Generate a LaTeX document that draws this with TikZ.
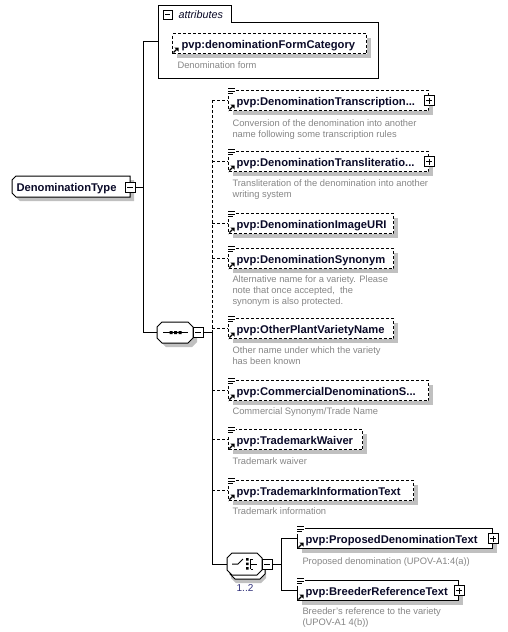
\documentclass[tikz,border=0pt]{standalone}
\usepackage{fontspec}
\setmainfont{Liberation Sans}
\usetikzlibrary{calc,shadows}
\definecolor{shgray}{HTML}{C0C0C0}
\definecolor{descgray}{HTML}{868686}
\definecolor{namecol}{HTML}{0A0A28}
\definecolor{multcol}{HTML}{30307A}
\newcommand\xnamefont{\fontsize{11.2}{13}\selectfont\bfseries}
\newcommand\xdescfont{\fontsize{9.35}{11}\selectfont}
\newcommand\refarrow[1]{%
  \draw[line width=1.3pt,solid] ($(#1.south west)+(1.5,-1.5)$) -- ++(3,-3);
  \fill ($(#1.south west)+(6.5,-6.5)$) -- ++(-4.2,0) -- ++(4.2,4.2) -- cycle;}
\newcommand\elicons[1]{%
  \fill[white] ($(#1.north west)+(-1.5,-2.5)$) rectangle ($(#1.north west)+(7.5,5.5)$);
  \draw[line width=0.9pt,solid] ($(#1.north west)+(0,-1.5)$) -- ++(7,0)
     ($(#1.north west)+(0,1)$) -- ++(7,0)
     ($(#1.north west)+(0,3.5)$) -- ++(5,0);
  \refarrow{#1}}
\begin{document}
\begin{tikzpicture}[x=1pt,y=-1pt,line width=1pt,
  dsh/.style={dash pattern=on 3pt off 2pt},
  shd/.style={drop shadow={shadow xshift=4pt,shadow yshift=-4pt,fill=shgray,opacity=1}},
  elbox/.style={draw,fill=white,shd,anchor=north west,minimum height=20pt,minimum width=#1,inner sep=0pt},
  optbox/.style={elbox=#1,dsh},
  nametext/.style={anchor=base west,inner sep=0pt,font=\xnamefont,text=namecol},
  desc/.style={anchor=base west,align=left,inner sep=0pt,font=\xdescfont,text=descgray},
  pmbox/.style={draw,solid,fill=white,minimum size=10pt,inner sep=0pt},
  plusbox/.style={pmbox,path picture={\draw[line width=1pt]
     ([xshift=2pt]path picture bounding box.west) -- ([xshift=-2pt]path picture bounding box.east)
     ([yshift=-2pt]path picture bounding box.north) -- ([yshift=2pt]path picture bounding box.south);}},
  minusbox/.style={pmbox,path picture={\draw[line width=1pt]
     ([xshift=2pt]path picture bounding box.west) -- ([xshift=-2pt]path picture bounding box.east);}},
  hidden/.style={inner sep=0pt}
]
\fill[white] (0,0) rectangle (507,632);
\useasboundingbox (0,0) rectangle (507,632);

% ---------- attributes ----------
\node[hidden,minimum width=219pt,minimum height=72pt,anchor=north west] (attrs) at (158,5) {};
\draw[fill=white] (attrs.north west) -- ++(73,0) -- ++(0,17) -| (attrs.south east) -- (attrs.south west) -- cycle;
\node[minusbox,minimum size=9pt] (attm) at (167.5,14.5) {};
\node[anchor=base west,inner sep=0pt,font=\fontsize{10.8}{12}\selectfont\itshape,text=namecol] (attt) at (178,18.5) {attributes};
\node[optbox=194pt] (fcat) at (172,33) {};
\refarrow{fcat}
\node[nametext] (fcatt) at (181,48) {pvp:denominationFormCategory};
\node[desc] (fcatd) at (177,68.5) {Denomination form};

% ---------- DenominationType ----------
\fill[shgray] (20,180) -- (134,180) -- (134,201) -- (20,201) -- (16,197) -- (16,184) -- cycle;
\draw[fill=white] (16,176) -- (130,176) -- (130,197) -- (16,197) -- (12,193) -- (12,180) -- cycle;
\node[hidden,anchor=west,minimum width=118pt,minimum height=21pt] (dt) at (12,186.5) {};
\node[nametext] (dtt) at (16,191) {DenominationType};
\node[minusbox] (dtm) at (130,187) {};

% ---------- sequence ----------
\fill[shgray] (166,326) -- (192,326) -- (197,331) -- (197,342) -- (192,347) -- (166,347) -- (161,342) -- (161,331) -- cycle;
\draw[fill=white] (162,322) -- (188,322) -- (193,327) -- (193,338) -- (188,343) -- (162,343) -- (157,338) -- (157,327) -- cycle;
\node[hidden,minimum width=36pt,minimum height=21pt] (seq) at (175,332.5) {};
\draw (163,332.5) -- (188,332.5);
\fill (169.5,331) rectangle +(3,3) (174,331) rectangle +(3,3) (178.5,331) rectangle +(3,3);
\node[minusbox] (seqm) at (198,332.5) {};

% ---------- choice ----------
\fill[shgray] (236,561) -- (261,561) -- (266,566) -- (266,578) -- (261,583) -- (236,583) -- (231,578) -- (231,566) -- cycle;
\draw[fill=white] (235,557) -- (260,557) -- (265,562) -- (265,574) -- (260,579) -- (235,579) -- (230,574) -- (230,562) -- cycle;
\draw[fill=white] (232,553) -- (257,553) -- (262,558) -- (262,570) -- (257,575) -- (232,575) -- (227,570) -- (227,558) -- cycle;
\node[hidden,minimum width=35pt,minimum height=22pt] (cho) at (244.5,564) {};
\draw (232,564) -- (238,564) -- (243,559);
\fill (246,558) rectangle +(2.5,2.5) (246,562.5) rectangle +(2.5,2.5) (246,567) rectangle +(2.5,2.5);
\draw (250.5,559) -- (250.5,569) (250.5,559) -- (253,559) (250.5,569) -- (253,569) (250.5,564) -- (257,564);
\node[minusbox] (chom) at (267,564) {};
\node[inner sep=0pt,font=\fontsize{10}{12}\selectfont,text=multcol] (mult) at (245,588) {1..2};

% ---------- sequence children ----------
\node[optbox=200pt] (e1) at (228,90) {};
\node[plusbox] (e1p) at (e1.east) {};
\elicons{e1}
\node[nametext] (e1t) at (236,105) {pvp:DenominationTranscription...};
\node[desc] (e1d) at (232,137.5) {Conversion of the denomination into another\\name following some transcription rules};

\node[optbox=200pt] (e2) at (228,151) {};
\node[plusbox] (e2p) at (e2.east) {};
\elicons{e2}
\node[nametext] (e2t) at (236,166) {pvp:DenominationTransliteratio...};
\node[desc] (e2d) at (232,197.5) {Transliteration of the denomination into another\\writing system};

\node[optbox=165pt] (e3) at (228,213) {};
\elicons{e3}
\node[nametext] (e3t) at (236,228) {pvp:DenominationImageURI};

\node[optbox=165pt] (e4) at (228,248) {};
\elicons{e4}
\node[nametext] (e4t) at (236,263) {pvp:DenominationSynonym};
\node[desc] (e4d) at (232,304) {Alternative name for a variety. Please\\note that once accepted,\ \ the\\synonym is also protected.};

\node[optbox=165pt] (e5) at (228,318) {};
\elicons{e5}
\node[nametext] (e5t) at (236,333) {pvp:OtherPlantVarietyName};
\node[desc] (e5d) at (232,364) {Other name under which the variety\\has been known};

\node[optbox=200pt] (e6) at (228,380) {};
\elicons{e6}
\node[nametext] (e6t) at (236,395) {pvp:CommercialDenominationS...};
\node[desc] (e6d) at (232,414) {Commercial Synonym/Trade Name};

\node[optbox=134pt] (e7) at (228,429) {};
\elicons{e7}
\node[nametext] (e7t) at (236,444) {pvp:TrademarkWaiver};
\node[desc] (e7d) at (232,464) {Trademark waiver};

\node[optbox=185pt] (e8) at (228,480) {};
\elicons{e8}
\node[nametext] (e8t) at (236,495) {pvp:TrademarkInformationText};
\node[desc] (e8d) at (232,514) {Trademark information};

% ---------- choice children ----------
\node[elbox=195pt] (e9) at (297,528) {};
\node[plusbox] (e9p) at (e9.east) {};
\elicons{e9}
\node[nametext] (e9t) at (305,543) {pvp:ProposedDenominationText};
\node[desc] (e9d) at (302,564) {Proposed denomination (UPOV-A1:4(a))};

\node[elbox=161pt] (e10) at (297,580) {};
\node[plusbox] (e10p) at (e10.east) {};
\elicons{e10}
\node[nametext] (e10t) at (305,595) {pvp:BreederReferenceText};
\node[desc] (e10d) at (302,625) {Breeder's reference to the variety\\(UPOV-A1 4(b))};

% ---------- connectors ----------
\coordinate (sp1top) at (143,41);
\draw (seq.west) -| (sp1top) -- (sp1top -| attrs.west);
\draw (dtm.east) -- (dtm.east -| sp1top);
\coordinate (sp2top) at (212,100);
\coordinate (sp2mid) at (seqm.east -| sp2top);
\draw[dsh] (sp2top) -- (sp2mid);
\draw (seqm.east) -- (sp2mid) |- (cho.west);
\foreach \e in {e1,e2,e3,e4,e5,e6,e7,e8}{\draw[dsh] (\e.west -| sp2top) -- (\e.west);}
\draw (chom.east) -- ++(9,0) coordinate (sp3);
\draw (e9.west) -| (sp3) |- (e10.west);
\end{tikzpicture}
\end{document}
